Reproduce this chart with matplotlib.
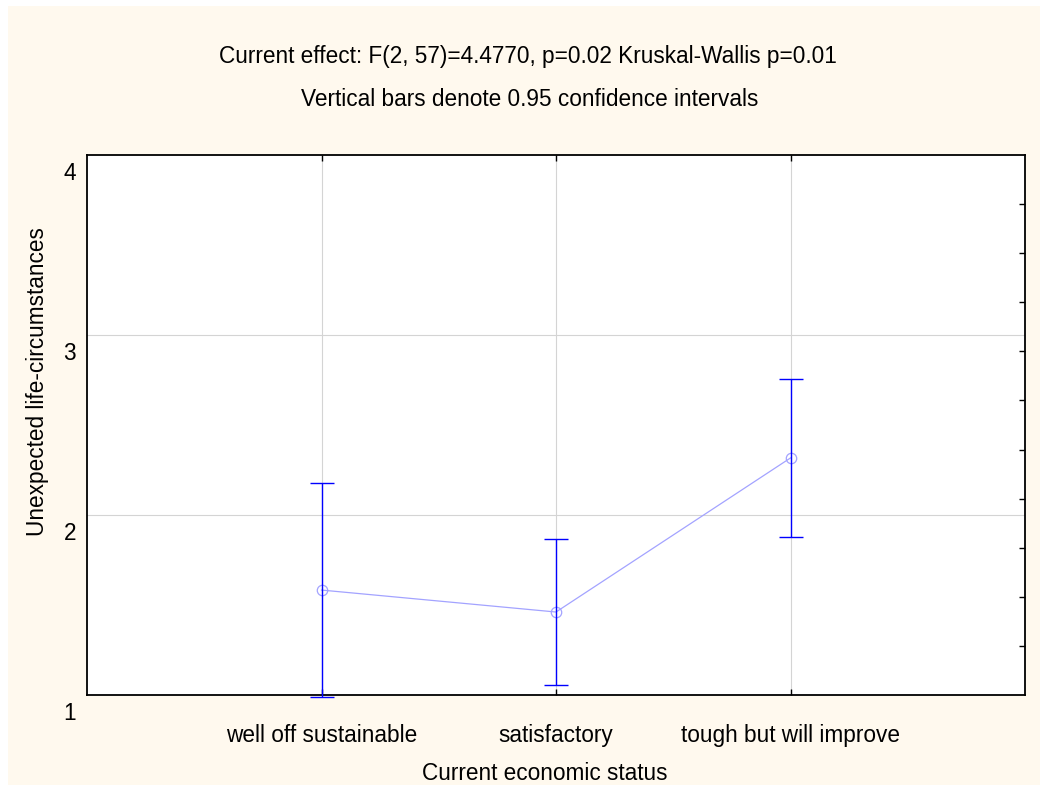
import matplotlib
matplotlib.use("Agg")
import matplotlib.pyplot as plt
from matplotlib.patches import Rectangle

plt.rcParams["font.family"] = ["Liberation Sans", "DejaVu Sans"]

categories = ["well off sustainable", "satisfactory", "tough but will improve"]
means = [1.583, 1.461, 2.317]
ci_low = [0.988, 1.055, 1.877]
ci_high = [2.178, 1.866, 2.756]

y_ticks = [1, 2, 3, 4]

BG = "#FFF9EE"
LINE_COLOR = "#A3A3FF"
BAR_COLOR = "#0000FF"
FS = 16.3

fig = plt.figure(figsize=(10.41, 7.88), dpi=100)
fig.patch.set_facecolor("white")
fig.patches.append(
    Rectangle((8 / 1041, 3 / 788), 1032 / 1041, 779 / 788,
              transform=fig.transFigure, facecolor=BG, edgecolor="none", zorder=-10)
)

W, H = 1041, 788
ax = fig.add_axes([87 / W, 1 - 695 / H, (1025 - 87) / W, (695 - 155) / H])
ax.set_facecolor("white")

x = list(range(1, len(categories) + 1))
ax.plot(x, means, color=LINE_COLOR, lw=0.9, marker="o", markersize=7.5,
        markerfacecolor="none", markeredgecolor=LINE_COLOR, markeredgewidth=0.9,
        zorder=3)
err = [[m - lo for m, lo in zip(means, ci_low)],
       [hi - m for m, hi in zip(means, ci_high)]]
ax.errorbar(x, means, yerr=err, fmt="none", ecolor=BAR_COLOR, elinewidth=1.0,
            capsize=8.3, capthick=1.0, zorder=4, clip_on=False)

ax.set_xlim(0, len(categories) + 1)
ax.set_ylim(y_ticks[0], y_ticks[-1])

# grid only at interior positions
for xi in x:
    ax.axvline(xi, color="#D4D4D4", lw=0.8, zorder=1)
for yi in y_ticks[1:-1]:
    ax.axhline(yi, color="#D4D4D4", lw=0.8, zorder=1)

ax.set_xticks(x)
ax.set_xticklabels([])
ax.tick_params(axis="x", direction="in", length=4, width=1, top=True, bottom=True)
ax.set_yticks(y_ticks)
ax.set_yticklabels([])
ax.tick_params(axis="y", length=0)

for sp in ax.spines.values():
    sp.set_linewidth(1.3)
    sp.set_color("black")

# y labels sit a little below their gridlines
for yv in y_ticks:
    ax.annotate(str(yv), xy=(0, yv), xycoords=("axes fraction", "data"),
                xytext=(-8, -5), textcoords="offset points",
                ha="right", va="top", fontsize=FS)

for xi, lab in zip(x, categories):
    ax.annotate(lab, xy=(xi, 0), xycoords=("data", "axes fraction"),
                xytext=(0, -29), textcoords="offset points",
                ha="center", va="center", fontsize=FS)

# minor ticks on the right spine
ax2 = ax.twinx()
ax2.set_ylim(0, 11)
ax2.set_yticks(range(1, 11))
ax2.set_yticklabels([])
ax2.tick_params(axis="y", direction="in", length=4, width=1)
for sp in ax2.spines.values():
    sp.set_visible(False)

fig.text(528 / W, 1 - 57 / H, "Current effect: F(2, 57)=4.4770, p=0.02 Kruskal-Wallis p=0.01",
         ha="center", va="center", fontsize=FS)
fig.text(530 / W, 1 - 100 / H, "Vertical bars denote 0.95 confidence intervals",
         ha="center", va="center", fontsize=FS)
fig.text(545 / W, 1 - 773 / H, "Current economic status",
         ha="center", va="center", fontsize=FS)
fig.text(38 / W, 1 - 382 / H, "Unexpected life-circumstances",
         ha="center", va="center", rotation=90, fontsize=FS)

fig.savefig("out.png", dpi=100, facecolor=fig.get_facecolor())
